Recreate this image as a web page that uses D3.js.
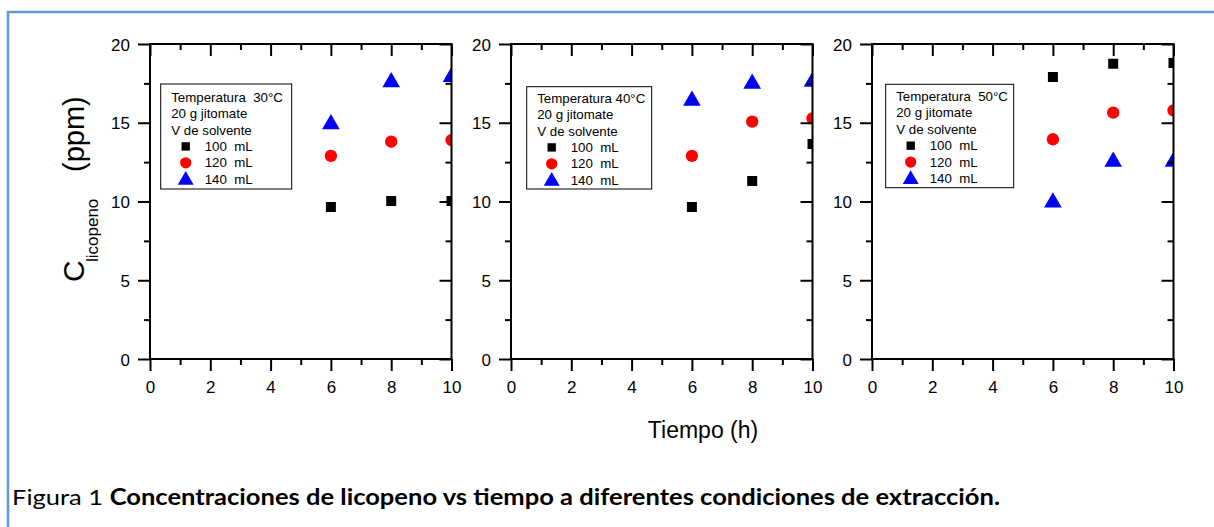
<!DOCTYPE html>
<html>
<head>
<meta charset="utf-8">
<script src="https://cdn.jsdelivr.net/npm/d3@7"></script>
<style>
  html, body { margin: 0; padding: 0; background: #fff; }
  svg { display: block; }
</style>
</head>
<body>
<svg id="chart" width="1214" height="527"></svg>
<script>
// ---- data ----
const times = [6, 8, 10];
const temperatures = ["Temperatura  30°C", "Temperatura 40°C", "Temperatura  50°C"];
const seriesNames = ["100  mL", "120  mL", "140  mL"];
const v30_100 = [9.65, 10.03, 10.03];
const v30_120 = [12.9, 13.8, 13.9];
const v30_140 = [15.0, 17.67, 18.0];
const v40_100 = [9.65, 11.3, 13.65];
const v40_120 = [12.9, 15.07, 15.28];
const v40_140 = [16.5, 17.57, 17.7];
const v50_100 = [17.9, 18.75, 18.8];
const v50_120 = [13.95, 15.64, 15.79];
const v50_140 = [10.03, 12.63, 12.63];
const xTicks = [0, 2, 4, 6, 8, 10];
const xMinor = [1, 3, 5, 7, 9];
const yTicks = [0, 5, 10, 15, 20];
const yMinor = [2.5, 7.5, 12.5, 17.5];
const legendLine2 = "20 g jitomate";
const legendLine3 = "V de solvente";
const xTitle = "Tiempo (h)";
const captionNormal = "Figura 1 ";
const captionBold = "Concentraciones de licopeno vs tiempo a diferentes condiciones de extracción.";

const panelsData = [
  [v30_100, v30_120, v30_140],
  [v40_100, v40_120, v40_140],
  [v50_100, v50_120, v50_140]
];

// ---- layout ----
const colors = ["#000000", "#ff0000", "#0000ff"];
const shapes = [d3.symbolSquare, d3.symbolCircle, d3.symbolTriangle];
const panelLefts = [150, 511, 872];
const panelW = 301.5;
const plotTop = 44, plotBottom = 359;
const legendBoxes = [
  {x: 160.7, y: 84, w: 131, h: 105, base: 101.7},
  {x: 526.7, y: 86.7, w: 125, h: 102.3, base: 102.7},
  {x: 885.7, y: 84.3, w: 128, h: 103.4, base: 101}
];
const font = "'Liberation Sans', Arial, sans-serif";

const svg = d3.select("#chart");

// frame
svg.append("path")
  .attr("d", "M8,527 L8,12 L1214,12")
  .attr("fill", "none")
  .attr("stroke", "#5b9bd5")
  .attr("stroke-width", 2.5);

const defs = svg.append("defs");

panelsData.forEach((series, pi) => {
  const x0 = panelLefts[pi];
  const x = d3.scaleLinear().domain([0, 10]).range([x0, x0 + panelW]);
  const y = d3.scaleLinear().domain([0, 20]).range([plotBottom, plotTop]);
  const g = svg.append("g");

  defs.append("clipPath").attr("id", "clip" + pi)
    .append("rect").attr("x", x0).attr("y", plotTop).attr("width", panelW).attr("height", plotBottom - plotTop);

  // data points
  const pts = g.append("g").attr("clip-path", `url(#clip${pi})`);
  series.forEach((vals, si) => {
    const sizes = [100, 120, 135];
    pts.selectAll(null).data(vals).enter().append("path")
      .attr("d", d3.symbol().type(shapes[si]).size(sizes[si]))
      .attr("transform", (d, i) => `translate(${x(times[i])},${y(d) + (si === 2 ? 1.5 : 0)})`)
      .attr("fill", colors[si]);
  });

  const tickStyle = sel => {
    sel.select(".domain").remove();
    sel.selectAll("line").attr("stroke", "#000").attr("stroke-width", 2);
    sel.selectAll("text").attr("font-family", font).attr("font-size", 17).attr("fill", "#000");
  };
  // left
  g.append("g").attr("transform", `translate(${x0},0)`)
    .call(d3.axisLeft(y).tickValues(yTicks).tickSize(12).tickPadding(8).tickFormat(d3.format("d")))
    .call(tickStyle)
    .call(s => s.selectAll("text").attr("dy", "0.36em"));
  g.append("g").attr("transform", `translate(${x0},0)`)
    .call(d3.axisLeft(y).tickValues(yMinor).tickSize(6).tickFormat(""))
    .call(tickStyle);
  // right (inward)
  g.append("g").attr("transform", `translate(${x0 + panelW},0)`)
    .call(d3.axisLeft(y).tickValues(yTicks).tickSize(12).tickFormat(""))
    .call(tickStyle);
  g.append("g").attr("transform", `translate(${x0 + panelW},0)`)
    .call(d3.axisLeft(y).tickValues(yMinor).tickSize(6).tickFormat(""))
    .call(tickStyle);
  // bottom
  g.append("g").attr("transform", `translate(0,${plotBottom})`)
    .call(d3.axisBottom(x).tickValues(xTicks).tickSize(12).tickPadding(10).tickFormat(d3.format("d")))
    .call(tickStyle);
  g.append("g").attr("transform", `translate(0,${plotBottom})`)
    .call(d3.axisBottom(x).tickValues(xMinor).tickSize(6).tickFormat(""))
    .call(tickStyle);
  // top (inward)
  g.append("g").attr("transform", `translate(0,${plotTop})`)
    .call(d3.axisBottom(x).tickValues(xTicks).tickSize(12).tickFormat(""))
    .call(tickStyle);
  g.append("g").attr("transform", `translate(0,${plotTop})`)
    .call(d3.axisBottom(x).tickValues(xMinor).tickSize(6).tickFormat(""))
    .call(tickStyle);

  // plot frame
  g.append("rect")
    .attr("x", x0).attr("y", plotTop).attr("width", panelW).attr("height", plotBottom - plotTop)
    .attr("fill", "none").attr("stroke", "#000").attr("stroke-width", 2);

  // legend
  const lb = legendBoxes[pi];
  const lg = g.append("g");
  lg.append("rect").attr("x", lb.x).attr("y", lb.y).attr("width", lb.w).attr("height", lb.h)
    .attr("fill", "#fff").attr("stroke", "#000").attr("stroke-width", 1);
  const lines = [temperatures[pi], legendLine2, legendLine3];
  lines.forEach((t, i) => {
    lg.append("text").attr("x", lb.x + 10.5).attr("y", lb.base + i * 16.4)
      .attr("font-family", font).attr("font-size", 13.3).attr("fill", "#000")
      .style("white-space", "pre").text(t);
  });
  seriesNames.forEach((nm, si) => {
    const by = lb.base + (3 + si) * 16.4;
    const lsizes = [70, 100, 110];
    lg.append("path")
      .attr("d", d3.symbol().type(shapes[si]).size(lsizes[si]))
      .attr("transform", `translate(${lb.x + 25},${by - 4.5 + (si === 2 ? 1 : 0)})`)
      .attr("fill", colors[si]);
    lg.append("text").attr("x", lb.x + 44).attr("y", by)
      .attr("font-family", font).attr("font-size", 13.3).attr("fill", "#000")
      .style("white-space", "pre").text(nm);
  });
});

// y title
const yt = svg.append("g").attr("transform", "translate(83.5,0) rotate(-90)");
const ytText = yt.append("text").attr("font-family", font).attr("fill", "#000");
ytText.append("tspan").attr("x", -282).attr("y", 0).attr("font-size", 30).text("C");
ytText.append("tspan").attr("x", -262).attr("y", 14).attr("font-size", 17).text("licopeno");
ytText.append("tspan").attr("x", -172).attr("y", 0).attr("font-size", 29).text("(ppm)");

// x title
svg.append("text").attr("x", 703).attr("y", 438).attr("text-anchor", "middle")
  .attr("font-family", font).attr("font-size", 23).attr("fill", "#000").text(xTitle);

// caption
const cap = svg.append("text").attr("x", 12).attr("y", 505)
  .attr("font-family", "Lato, 'Open Sans', sans-serif")
  .attr("font-size", 22).attr("fill", "#000")
  .style("white-space", "pre");
cap.append("tspan").text(captionNormal);
cap.append("tspan").attr("font-weight", "bold").text(captionBold);
cap.attr("textLength", 988).attr("lengthAdjust", "spacingAndGlyphs");
</script>
</body>
</html>
